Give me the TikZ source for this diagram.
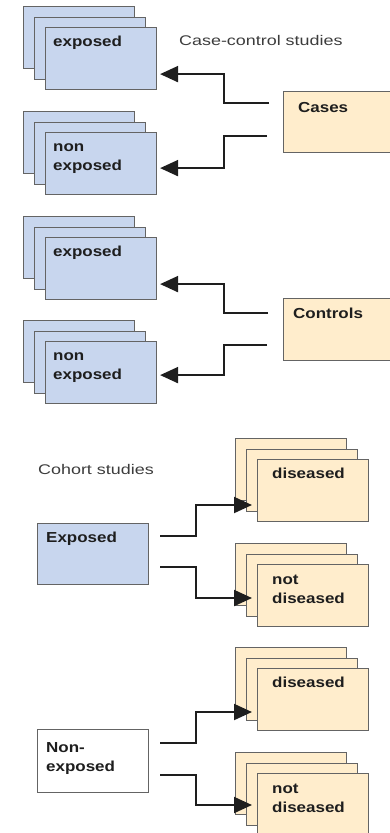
\documentclass[tikz,border=0pt]{standalone}
\usepackage{fontspec}
\usetikzlibrary{arrows.meta,calc}
\newfontfamily\boxfont[FakeStretch=1.17]{Liberation Sans}
\newfontfamily\titlefont[FakeStretch=1.28]{Liberation Sans}
\definecolor{bluefill}{RGB}{200,214,238}
\definecolor{peachfill}{RGB}{255,237,204}
\definecolor{edge}{RGB}{100,100,100}
\definecolor{ink}{RGB}{30,30,30}
\definecolor{titleink}{RGB}{60,60,60}
\newcommand\topstrut{\rule{0pt}{10.5pt}}
\tikzset{
  card/.style={draw=edge, line width=1.1pt, anchor=north west, minimum width=111pt, minimum height=62pt, inner sep=0pt},
  bluecard/.style={card, fill=bluefill},
  peachcard/.style={card, fill=peachfill},
  lbl/.style={anchor=north west, inner sep=0pt, align=left, text=ink,
    font=\boxfont\bfseries\fontsize{14.5}{19}\selectfont},
  ttl/.style={anchor=north west, inner sep=0pt, text height=10pt, text=titleink,
    font=\titlefont\fontsize{14}{17}\selectfont},
  arr/.style={draw=ink, line width=2pt, -{Triangle[length=18pt,width=16pt]}}
}
\newcommand\cardstack[4]{%
  \node[#4] (#1c) at (#2-22,#3-21) {};
  \node[#4] (#1b) at (#2-11,#3-10) {};
  \node[#4] (#1) at (#2,#3) {};
}
\begin{document}
\begin{tikzpicture}[x=1pt,y=-1pt]
\useasboundingbox (0,0) rectangle (389,833);
% ---------- case-control ----------
\node[ttl] (cctitle) at (179,35) {Case-control studies};
\cardstack{A}{45}{27}{bluecard}
\cardstack{B}{45}{132}{bluecard}
\cardstack{C}{45}{237}{bluecard}
\cardstack{D}{45}{341}{bluecard}
\node[lbl] (Atext) at ($(A.north west)+(8,9)$) {\topstrut exposed};
\node[lbl] (Btext) at ($(B.north west)+(8,9)$) {\topstrut non\\exposed};
\node[lbl] (Ctext) at ($(C.north west)+(8,9)$) {\topstrut exposed};
\node[lbl] (Dtext) at ($(D.north west)+(8,9)$) {\topstrut non\\exposed};
\node[card, fill=peachfill, minimum width=120pt, minimum height=61pt] (cases) at (283,91) {};
\node[lbl] (casestext) at ($(cases.north west)+(15,11)$) {\topstrut Cases};
\node[card, fill=peachfill, minimum width=120pt, minimum height=62pt] (controls) at (283,298) {};
\node[lbl] (controlstext) at ($(controls.north west)+(10,10)$) {\topstrut Controls};
\coordinate (a1) at (269,103);
\coordinate (a2) at (267,136);
\coordinate (a3) at (268,313);
\coordinate (a4) at (267,345);
\draw[arr] (a1) -- (224,103) |- ($(A.south east)+(3,-16)$);
\draw[arr] (a2) -- (224,136) |- ($(B.south east)+(3,-27)$);
\draw[arr] (a3) -- (224,313) |- ($(C.south east)+(3,-16)$);
\draw[arr] (a4) -- (224,345) |- ($(D.south east)+(3,-29)$);
% ---------- cohort ----------
\node[ttl] (cotitle) at (38,464) {Cohort studies};
\node[bluecard, minimum height=61pt] (exp) at (37,523) {};
\node[lbl] (exptext) at ($(exp.north west)+(9,9)$) {\topstrut Exposed};
\node[card, fill=white, minimum height=63pt] (nonexp) at (37,729) {};
\node[lbl] (nonexptext) at ($(nonexp.north west)+(9,13)$) {\topstrut Non-\\exposed};
\cardstack{E}{257}{459}{peachcard}
\cardstack{F}{257}{564}{peachcard}
\cardstack{G}{257}{668}{peachcard}
\cardstack{H}{257}{773}{peachcard}
\node[lbl] (Etext) at ($(E.north west)+(15,9)$) {\topstrut diseased};
\node[lbl] (Ftext) at ($(F.north west)+(15,10)$) {\topstrut not\\diseased};
\node[lbl] (Gtext) at ($(G.north west)+(15,9)$) {\topstrut diseased};
\node[lbl] (Htext) at ($(H.north west)+(15,10)$) {\topstrut not\\diseased};
\coordinate (e1) at (160,536);
\coordinate (e2) at (160,567);
\coordinate (n1) at (160,743);
\coordinate (n2) at (160,775);
\draw[arr] (e1) -- (196,536) |- ($(E.north west)+(-5,46)$);
\draw[arr] (e2) -- (196,567) |- ($(F.north west)+(-5,34)$);
\draw[arr] (n1) -- (196,743) |- ($(G.north west)+(-5,44)$);
\draw[arr] (n2) -- (196,775) |- ($(H.north west)+(-5,32)$);
\end{tikzpicture}
\end{document}
